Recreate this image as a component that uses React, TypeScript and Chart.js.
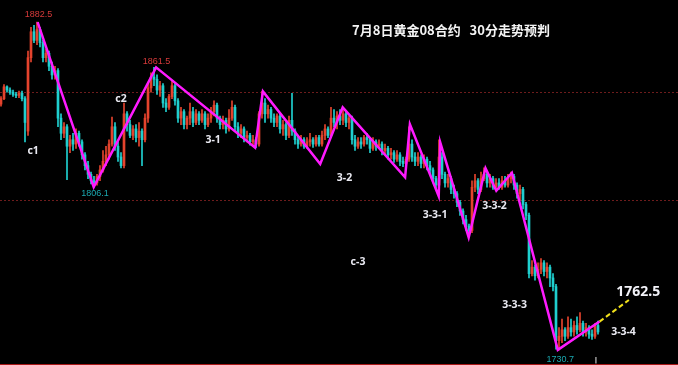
import { useEffect, useRef } from "react";
import { Chart, registerables } from "chart.js";

Chart.register(...registerables);

// ---- candle data (30-minute gold, index = bar number) ----
const opens = [
  1844.5, 1847, 1852.5, 1851, 1850, 1849, 1848.5, 1849.5, 1847, 1832,
  1866, 1878, 1874, 1879, 1873, 1866, 1868, 1862, 1858, 1860,
  1838, 1831, 1834, 1825, 1828, 1826, 1831, 1827, 1821, 1816,
  1812, 1809, 1808, 1811, 1814, 1818, 1821, 1826, 1834, 1825,
  1820, 1816, 1840, 1835, 1830, 1833, 1829, 1832, 1828, 1838,
  1852, 1857, 1856, 1851, 1853, 1845, 1843, 1848, 1853, 1846,
  1838, 1841, 1835, 1838, 1841, 1836, 1840, 1837, 1840, 1835,
  1838, 1841, 1844, 1838, 1835, 1837, 1833, 1838, 1843, 1834,
  1831, 1833, 1829, 1830, 1827, 1828, 1826, 1840, 1845, 1840,
  1842, 1838, 1836, 1839, 1833, 1835, 1830, 1837, 1832, 1828,
  1826, 1828, 1825, 1827, 1828, 1826, 1829, 1826, 1830, 1833,
  1830, 1838, 1836, 1839, 1837, 1840, 1836, 1838, 1828, 1825,
  1827, 1826, 1829, 1828, 1824, 1827, 1825, 1826, 1823, 1824,
  1821, 1822, 1819, 1821, 1818, 1817, 1819, 1826, 1820, 1818,
  1820, 1817, 1819, 1816, 1814, 1810, 1807, 1820, 1812, 1808,
  1810, 1805, 1803, 1799, 1795, 1791, 1788, 1786, 1806, 1809,
  1805, 1810, 1812, 1808, 1810, 1806, 1808, 1806, 1809, 1807,
  1810, 1811, 1807, 1803, 1805, 1798, 1793, 1766, 1769, 1765,
  1768, 1771, 1767, 1769, 1764, 1760, 1735, 1737, 1740, 1737,
  1741, 1739, 1742, 1740, 1743, 1739, 1741, 1738, 1737, 1742,
];
const highs = [
  1848, 1853.5, 1853, 1852, 1851, 1850, 1850.5, 1850.5, 1848, 1869,
  1880, 1881, 1882.5, 1880, 1874, 1870, 1869, 1864, 1862, 1861,
  1840, 1836, 1835, 1830, 1831, 1833, 1832, 1828, 1822, 1818,
  1813, 1811, 1812, 1816, 1823, 1825, 1828, 1838.5, 1836, 1827,
  1822, 1845, 1841, 1837, 1834.5, 1835, 1836, 1833, 1840, 1854,
  1859, 1861.5, 1858, 1855, 1854, 1847, 1849, 1855, 1854, 1847,
  1843, 1842, 1839, 1845, 1843, 1842, 1841, 1842, 1841, 1840,
  1843, 1846, 1845, 1839, 1839, 1838, 1842, 1846, 1844, 1836,
  1835, 1834, 1832, 1831, 1830, 1829, 1841, 1850.4, 1847, 1844,
  1843, 1840, 1840, 1840, 1837, 1836, 1839, 1849.5, 1833, 1830,
  1830, 1829, 1829, 1831, 1829, 1830, 1830, 1832, 1835, 1834,
  1843, 1842, 1841, 1842, 1843, 1841, 1839, 1839, 1830, 1829,
  1829, 1830, 1831, 1829, 1829, 1828, 1828, 1827, 1826, 1825,
  1824, 1823, 1823, 1822, 1820, 1820, 1834, 1828, 1822, 1822,
  1821, 1821, 1820, 1818, 1815, 1811, 1828, 1822, 1813, 1812,
  1811, 1807, 1804, 1800, 1796, 1793, 1789, 1809, 1812, 1810,
  1813, 1815, 1813, 1812, 1811, 1810, 1810, 1811, 1811, 1812,
  1813, 1812, 1808, 1807, 1806, 1799, 1794, 1772, 1770, 1771,
  1773, 1772, 1771, 1770, 1766, 1761, 1741, 1745, 1741, 1746,
  1745, 1744, 1746, 1748, 1744, 1743, 1742, 1740, 1743, 1744,
];
const lows = [
  1843.5, 1846.5, 1850, 1849, 1848, 1847.5, 1847.5, 1846, 1827, 1830,
  1864, 1873, 1872, 1871, 1864, 1864, 1860, 1856, 1856, 1834,
  1828, 1829, 1809.5, 1822, 1823, 1824, 1825, 1819, 1814, 1810,
  1807.5, 1806.1, 1807, 1809, 1813, 1816, 1819, 1825, 1823, 1818,
  1815, 1815, 1832, 1829, 1828, 1827, 1825, 1816, 1827, 1836,
  1850, 1853, 1849, 1848, 1843, 1841, 1842, 1847, 1844, 1836,
  1835, 1833, 1833, 1835, 1834, 1835, 1835, 1836, 1833, 1834,
  1836, 1839, 1836, 1833, 1833, 1831, 1832, 1837, 1832, 1829,
  1829, 1827, 1827, 1825.5, 1825, 1824.3, 1825, 1838, 1836, 1838,
  1836, 1834, 1834, 1831, 1830, 1828, 1829, 1830, 1826, 1824,
  1825, 1824, 1824, 1825, 1824.5, 1825, 1825, 1825, 1828, 1829,
  1829, 1834, 1833, 1835, 1835, 1834, 1833, 1826, 1823, 1824,
  1824, 1825, 1826, 1822, 1823, 1823, 1824, 1821, 1821, 1819,
  1819, 1817.5, 1818, 1816, 1815.5, 1815, 1818, 1818, 1816, 1816,
  1815, 1815, 1814, 1812, 1808, 1805, 1805, 1810, 1806, 1806,
  1803, 1801, 1797, 1793, 1789, 1786, 1783, 1785, 1804, 1803,
  1804, 1809, 1806, 1806, 1805, 1805, 1805, 1805, 1806, 1806,
  1808, 1805, 1801, 1800, 1796, 1791, 1764, 1765, 1763, 1764,
  1766, 1765, 1764, 1760, 1758, 1731, 1730.7, 1734, 1735, 1736,
  1737, 1737, 1738, 1739, 1737, 1737, 1736, 1735.5, 1736, 1738,
];
const closes = [
  1847, 1852.5, 1851, 1850, 1849, 1848.5, 1849.5, 1847, 1836, 1866,
  1878, 1874, 1879, 1873, 1866, 1868, 1862, 1858, 1860, 1838,
  1831, 1834, 1825, 1828, 1826, 1831, 1827, 1821, 1816, 1812,
  1809, 1808, 1811, 1814, 1818, 1821, 1826, 1834, 1825, 1820,
  1816, 1840, 1835, 1830, 1833, 1829, 1832, 1828, 1838, 1852,
  1857, 1856, 1851, 1853, 1845, 1843, 1848, 1853, 1846, 1838,
  1841, 1835, 1838, 1841, 1836, 1840, 1837, 1840, 1835, 1838,
  1841, 1844, 1838, 1835, 1837, 1833, 1838, 1843, 1834, 1831,
  1833, 1829, 1830, 1827, 1828, 1826, 1840, 1845, 1840, 1842,
  1838, 1836, 1839, 1833, 1835, 1830, 1837, 1832, 1828, 1826,
  1828, 1825, 1827, 1828, 1826, 1829, 1826, 1830, 1833, 1830,
  1838, 1836, 1839, 1837, 1840, 1836, 1838, 1828, 1825, 1827,
  1826, 1829, 1828, 1824, 1827, 1825, 1826, 1823, 1824, 1821,
  1822, 1819, 1821, 1818, 1817, 1819, 1826, 1820, 1818, 1820,
  1817, 1819, 1816, 1814, 1810, 1807, 1820, 1812, 1808, 1810,
  1805, 1803, 1799, 1795, 1791, 1788, 1786, 1806, 1809, 1805,
  1810, 1812, 1808, 1810, 1806, 1808, 1806, 1809, 1807, 1810,
  1811, 1807, 1803, 1805, 1798, 1793, 1766, 1769, 1765, 1768,
  1771, 1767, 1769, 1764, 1760, 1735, 1737, 1740, 1737, 1741,
  1739, 1742, 1740, 1743, 1739, 1741, 1738, 1737, 1742, 1739,
];

// ---- hand-drawn wave overlay (bar index, price) ----
const waveX = [12.2, 30.9, 51.7, 84.7, 87.3, 106.4, 113.9, 134.7, 136.3, 145.9, 146.4, 155.9, 161.5, 165.1, 170.3, 185.6, 199.5];
const waveY = [1882.5, 1806.1, 1861.5, 1824.3, 1850.4, 1816.8, 1843.0, 1810.6, 1835.1, 1801.9, 1826.8, 1782.8, 1814.8, 1804.4, 1812.7, 1730.7, 1743.8];
const forecastX = [199.5, 209.3];
const forecastY = [1743.8, 1753.8];

// ---- reference levels ----
const gridLevels = [1800, 1850];
const sessionMarkX = [198.3];
const sessionMarkRange = [1724.5, 1727.2];

// ---- annotations ----
const labelTexts = ["1882.5", "1861.5", "1806.1", "1730.7", "c1", "c2", "3-1", "3-2", "3-3-1", "3-3-2", "c-3", "3-3-3", "3-3-4", "1762.5", "7月8日黄金08合约   30分走势预判"];
const labelX = [12.5, 51.8, 31.3, 186.4, 10.7, 40.0, 70.7, 114.5, 144.7, 164.5, 119.0, 171.2, 207.5, 212.4, 150.0];
const labelY = [1886.0, 1864.2, 1802.9, 1726.3, 1822.8, 1846.9, 1828.1, 1810.3, 1793.2, 1797.1, 1771.6, 1751.7, 1739.0, 1757.5, 1878.8];
const labelKinds = ["hi", "hi", "lo", "lo", "wave", "wave", "wave", "wave", "wave", "wave", "wave", "wave", "wave", "target", "title"];

const UP = "#e5432d";
const DOWN = "#1fcfcf";

const labelStyles: Record<string, { font: string; color: string }> = {
  hi: { font: '9px "Liberation Sans"', color: "#d83a3a" },
  lo: { font: '9px "Liberation Sans"', color: "#1aa8b0" },
  wave: { font: 'bold 10.5px "Noto Sans"', color: "#e8e8f0" },
  target: { font: 'bold 14px "Noto Sans"', color: "#f2f2f8" },
  title: { font: 'bold 13px "Noto Sans CJK SC"', color: "#f4f4f4" },
};

const labelPlugin = {
  id: "waveLabels",
  afterDatasetsDraw(chart: any) {
    const { ctx, scales } = chart;
    const xs = scales.x;
    const ys = scales.y;
    ctx.save();
    ctx.textAlign = "center";
    ctx.textBaseline = "middle";
    labelTexts.forEach((t, i) => {
      const st = labelStyles[labelKinds[i]];
      ctx.font = st.font;
      ctx.fillStyle = st.color;
      ctx.fillText(t, xs.getPixelForValue(labelX[i]), ys.getPixelForValue(labelY[i]));
    });
    ctx.restore();
  },
};

export default function App() {
  const ref = useRef<HTMLCanvasElement | null>(null);

  useEffect(() => {
    const canvas = ref.current;
    if (!canvas) return;
    const colors = opens.map((o, i) => (closes[i] >= o ? UP : DOWN));
    const bodies = opens.map((o, i) => ({ x: i, y: [o, closes[i]] }));
    const wicks = lows.map((l, i) => ({ x: i, y: [l, highs[i]] }));
    const wave = waveX.map((x, i) => ({ x, y: waveY[i] }));
    const forecast = forecastX.map((x, i) => ({ x, y: forecastY[i] }));
    const marks = sessionMarkX.map((x) => ({ x, y: sessionMarkRange }));

    const chart = new Chart(canvas, {
      type: "bar",
      data: {
        datasets: [
          {
            type: "line",
            data: wave,
            borderColor: "#ff1aff",
            borderWidth: 2.5,
            pointRadius: 0,
            tension: 0,
            order: 0,
          } as any,
          {
            type: "line",
            data: forecast,
            borderColor: "#f0e01a",
            borderWidth: 2,
            borderDash: [5, 3],
            pointRadius: 0,
            tension: 0,
            order: 0,
          } as any,
          {
            type: "bar",
            data: bodies,
            backgroundColor: colors,
            borderWidth: 0,
            barThickness: 2,
            minBarLength: 1,
            grouped: false,
            order: 1,
          } as any,
          {
            type: "bar",
            data: wicks,
            backgroundColor: colors,
            borderWidth: 0,
            barThickness: 1,
            grouped: false,
            order: 2,
          } as any,
          {
            type: "bar",
            data: marks,
            backgroundColor: "#8a8a8a",
            borderWidth: 0,
            barThickness: 1,
            grouped: false,
            order: 2,
          } as any,
        ],
      },
      options: {
        animation: false,
        responsive: false,
        maintainAspectRatio: false,
        events: [],
        layout: { padding: 0 },
        plugins: {
          legend: { display: false },
          tooltip: { enabled: false },
        },
        scales: {
          x: {
            type: "linear",
            min: -1 / 3,
            max: 226 - 1 / 3,
            offset: false,
            display: true,
            ticks: { display: false },
            grid: { display: false, drawTicks: false, offset: false },
            border: { display: true, color: "#a81818", width: 2 },
          },
          y: {
            type: "linear",
            min: 1723.7,
            max: 1892.7,
            display: true,
            ticks: { display: false },
            grid: { color: "#6e1c1c", drawTicks: false, lineWidth: 1 },
            border: { display: false, dash: [2, 2] },
            afterBuildTicks: (axis: any) => {
              axis.ticks = gridLevels.map((v) => ({ value: v }));
            },
          },
        },
      } as any,
      plugins: [labelPlugin],
    });
    return () => chart.destroy();
  }, []);

  return (
    <div style={{ position: "absolute", left: 0, top: 0, width: 678, height: 365, background: "#000" }}>
      <canvas ref={ref} width={678} height={365} style={{ display: "block" }} />
    </div>
  );
}
